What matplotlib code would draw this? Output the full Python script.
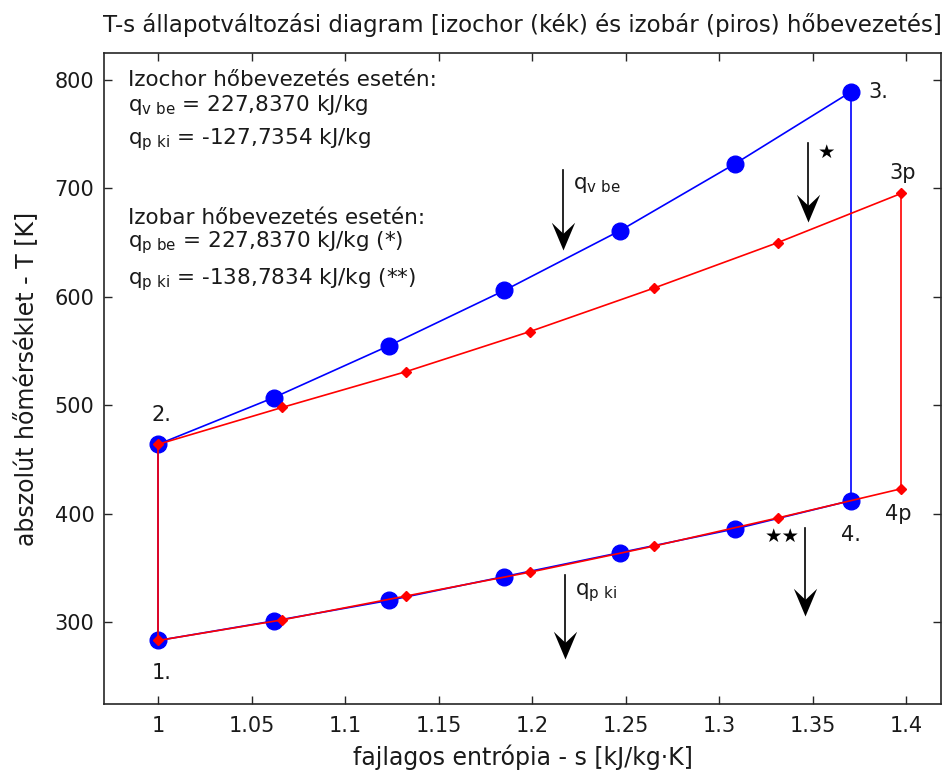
import matplotlib
matplotlib.use('Agg')
import matplotlib.pyplot as plt
from matplotlib.ticker import FuncFormatter
from matplotlib.path import Path

# --------------------------------------------------------------------------------------
# Data

# izochor (blue) process points
s_v      = [1.0, 1.0617, 1.1235, 1.1852, 1.2469, 1.3087, 1.3704]
T_v_be   = [464, 507, 555, 606, 661, 723, 789]
T_v_ki   = [283, 301, 320, 342, 364, 386, 412]

# izobar (red) process points
s_p      = [1.0, 1.0663, 1.1325, 1.1988, 1.2650, 1.3313, 1.3975]
T_p_be   = [464, 498, 531, 568, 608, 650, 695.5]
T_p_ki   = [283, 302, 324, 346, 370, 396, 423]

x_ticks  = [1.0, 1.05, 1.1, 1.15, 1.2, 1.25, 1.3, 1.35, 1.4]
y_ticks  = [300, 400, 500, 600, 700, 800]

# --------------------------------------------------------------------------------------
# Style

plt.rcParams['font.family']      = ['DejaVu Sans']
plt.rcParams['mathtext.fontset'] = 'dejavusans'

txtcol   = '#1a1a1a'
fs_tick  = 15
fs_txt   = 15.5
fs_title = 16.5
fs_lab   = 17

# notched arrow head, tip at the origin
head = Path([(0, 0), (0.42, 1.0), (0, 0.6), (-0.42, 1.0), (0, 0)],
            [Path.MOVETO, Path.LINETO, Path.LINETO, Path.LINETO, Path.CLOSEPOLY])

def down_arrow(ax, x, y_top, y_tip):
    ax.plot([x, x], [y_top, y_tip + 10], color='black', lw=1.2)
    ax.plot([x], [y_tip], marker=head, ms=40, color='black', mew=0)

fig = plt.figure(figsize=(9.44, 7.76), dpi=100)
ax  = fig.add_axes([0.1102, 0.0928, 0.8866, 0.8389])

# --------------------------------------------------------------------------------------
# Lines

# blue: izochor
ax.plot([s_v[0], s_v[0]], [T_v_ki[0], T_v_be[0]], color='blue', lw=1.2)
ax.plot(s_v, T_v_be, color='blue', lw=1.2, marker='o', ms=12)
ax.plot([s_v[-1], s_v[-1]], [T_v_be[-1], T_v_ki[-1]], color='blue', lw=1.2)
ax.plot(s_v, T_v_ki, color='blue', lw=1.2, marker='o', ms=12)

# red: izobar
ax.plot([s_p[0], s_p[0]], [T_p_ki[0], T_p_be[0]], color='red', lw=1.2)
ax.plot(s_p, T_p_be, color='red', lw=1.2, marker='D', ms=5)
ax.plot([s_p[-1], s_p[-1]], [T_p_be[-1], T_p_ki[-1]], color='red', lw=1.2)
ax.plot(s_p, T_p_ki, color='red', lw=1.2, marker='D', ms=5)

# --------------------------------------------------------------------------------------
# Point labels

ax.text(0.9965, 491, '2.', fontsize=fs_tick, color=txtcol, va='center')
ax.text(0.9965, 253, '1.', fontsize=fs_tick, color=txtcol, va='center')
ax.text(1.3797, 789, '3.', fontsize=fs_tick, color=txtcol, va='center')
ax.text(1.3909, 714, '3p', fontsize=fs_tick, color=txtcol, va='center')
ax.text(1.3886, 400, '4p', fontsize=fs_tick, color=txtcol, va='center')
ax.text(1.3651, 380, '4.', fontsize=fs_tick, color=txtcol, va='center')

# --------------------------------------------------------------------------------------
# Info text

ax.text(0.9838, 800, 'Izochor hőbevezetés esetén:', fontsize=fs_txt, color=txtcol, va='center')
ax.text(0.9838, 777, r'q$_{\mathrm{v\ be}}$ = 227,8370 kJ/kg', fontsize=fs_txt, color=txtcol, va='center')
ax.text(0.9838, 745, r'q$_{\mathrm{p\ ki}}$ = -127,7354 kJ/kg', fontsize=fs_txt, color=txtcol, va='center')
ax.text(0.9838, 673, 'Izobar hőbevezetés esetén:', fontsize=fs_txt, color=txtcol, va='center')
ax.text(0.9838, 650, r'q$_{\mathrm{p\ be}}$ = 227,8370 kJ/kg (*)', fontsize=fs_txt, color=txtcol, va='center')
ax.text(0.9838, 616, r'q$_{\mathrm{p\ ki}}$ = -138,7834 kJ/kg (**)', fontsize=fs_txt, color=txtcol, va='center')

# --------------------------------------------------------------------------------------
# Arrows

down_arrow(ax, 1.2163, 717, 643)
ax.text(1.2216, 703, r'q$_{\mathrm{v\ be}}$', fontsize=fs_txt, color=txtcol, va='center')

down_arrow(ax, 1.3473, 742, 669)
ax.text(1.3575, 733, '★', fontsize=14, color='black', va='center', ha='center')

down_arrow(ax, 1.2175, 343, 266)
ax.text(1.2228, 327, r'q$_{\mathrm{p\ ki}}$', fontsize=fs_txt, color=txtcol, va='center')

down_arrow(ax, 1.3462, 387, 306)
ax.text(1.3339, 379, '★★', fontsize=14, color='black', va='center', ha='center')

# --------------------------------------------------------------------------------------
# Axes

ax.set_xlim(0.971, 1.4187)
ax.set_ylim(224.4, 825)

ax.set_xticks(x_ticks)
ax.set_yticks(y_ticks)
ax.xaxis.set_major_formatter(FuncFormatter(lambda v, pos: '%g' % v))

ax.tick_params(direction='in', top=True, right=True, length=6, width=1,
               labelsize=fs_tick, labelcolor=txtcol, colors='#262626')
ax.tick_params(axis='x', pad=9)
ax.tick_params(axis='y', pad=7)

for sp in ax.spines.values():
    sp.set_color('#262626')
    sp.set_linewidth(1.2)

ax.set_xlabel('fajlagos entrópia - s [kJ/kg·K]', fontsize=fs_lab, color=txtcol, labelpad=6)
ax.set_ylabel('abszolút hőmérséklet - T [K]', fontsize=fs_lab, color=txtcol, labelpad=12)
ax.set_title('T-s állapotváltozási diagram [izochor (kék) és izobár (piros) hőbevezetés]',
             fontsize=fs_title, color=txtcol, pad=15)

# --------------------------------------------------------------------------------------
# Save chart

plt.savefig('out.png', dpi=100)
